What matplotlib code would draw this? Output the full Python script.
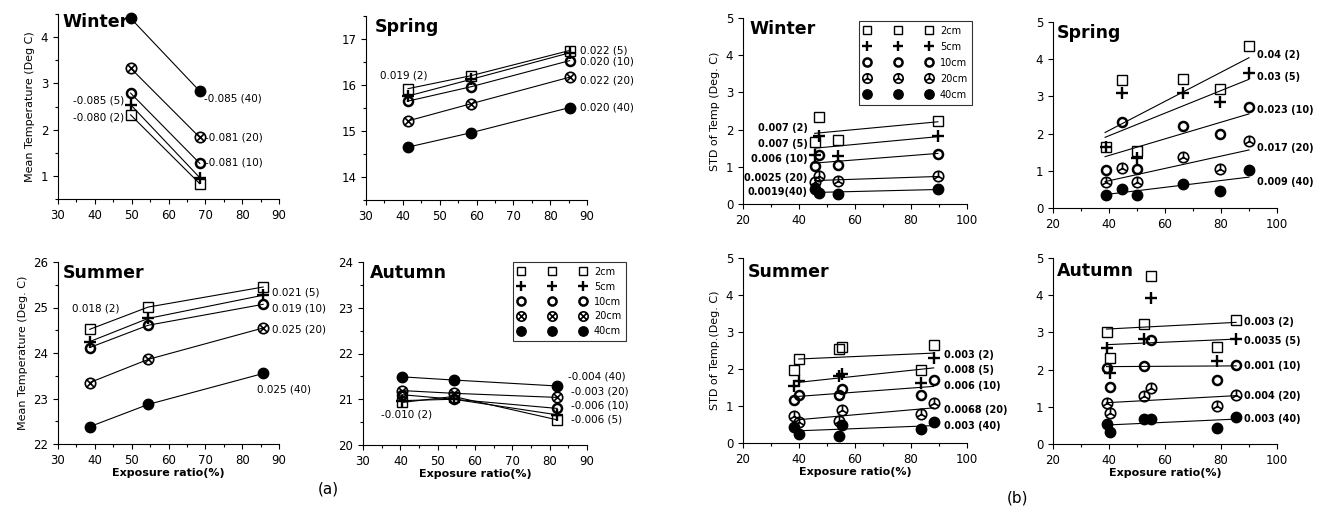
import matplotlib
matplotlib.use('Agg')
import matplotlib.pyplot as plt
from matplotlib.path import Path
from matplotlib.lines import Line2D
from matplotlib.ticker import MultipleLocator

depths = ['2cm', '5cm', '10cm', '20cm', '40cm']

# ---- (a) mean temperature, points joined by lines ----
a_win_x = [49.7, 68.5]
a_win_y = [[2.32, 0.83], [2.54, 0.96], [2.79, 1.27], [3.33, 1.83], [4.41, 2.83]]
a_win_lab = ['-0.080 (2)', '-0.085 (5)', '-0.081 (10)', '-0.081 (20)', '-0.085 (40)']

a_spr_x = [41.4, 58.4, 85.3]
a_spr_y = [[15.92, 16.20, 16.75], [15.76, 16.12, 16.70], [15.65, 15.96, 16.53],
           [15.22, 15.59, 16.17], [14.65, 14.96, 15.51]]
a_spr_lab = ['0.019 (2)', '0.022 (5)', '0.020 (10)', '0.022 (20)', '0.020 (40)']

a_sum_x = [38.6, 54.5, 85.7]
a_sum_y = [[24.52, 25.01, 25.45], [24.25, 24.76, 25.27], [24.12, 24.61, 25.07],
           [23.35, 23.86, 24.55], [22.38, 22.87, 23.55]]
a_sum_lab = ['0.018 (2)', '0.021 (5)', '0.019 (10)', '0.025 (20)', '0.025 (40)']

a_aut_x = [40.4, 54.3, 82.0]
a_aut_y = [[20.93, 21.06, 20.55], [20.97, 21.00, 20.66], [21.10, 21.00, 20.80],
           [21.19, 21.13, 21.04], [21.49, 21.42, 21.29]]
a_aut_lab = ['-0.010 (2)', '-0.006 (5)', '-0.006 (10)', '-0.003 (20)', '-0.004 (40)']

# ---- (b) std of temperature, scatter + fitted lines ----
b_win_x = [45.6, 47.3, 53.9, 89.6]
b_win_y = [[1.66, 2.34, 1.71, 2.22], [1.31, 1.84, 1.28, 1.82], [1.01, 1.33, 1.04, 1.35],
           [0.58, 0.74, 0.61, 0.76], [0.39, 0.30, 0.27, 0.40]]
b_win_fitx = [45.6, 89.6]
b_win_fit = [[1.90, 2.21], [1.50, 1.81], [1.10, 1.36], [0.63, 0.74], [0.31, 0.39]]
b_win_lab = ['0.007 (2)', '0.007 (5)', '0.006 (10)', '0.0025 (20)', '0.0019(40)']

b_spr_x = [39.0, 44.6, 49.9, 66.5, 79.6, 90.0]
b_spr_y = [[1.65, 3.44, 1.52, 3.48, 3.19, 4.35], [1.65, 3.08, 1.34, 3.10, 2.86, 3.63],
           [1.03, 2.32, 1.04, 2.21, 1.99, 2.72], [0.71, 1.07, 0.69, 1.37, 1.04, 1.81],
           [0.36, 0.51, 0.36, 0.64, 0.47, 1.01]]
b_spr_fitx = [38.6, 90.0]
b_spr_fit = [[2.03, 4.04], [1.90, 3.46], [1.38, 2.53], [0.71, 1.56], [0.36, 0.83]]
b_spr_lab = ['0.04 (2)', '0.03 (5)', '0.023 (10)', '0.017 (20)', '0.009 (40)']

b_sum_x = [38.3, 39.9, 54.2, 55.4, 83.6, 88.1]
b_sum_y = [[1.98, 2.27, 2.54, 2.59, 1.98, 2.66], [1.53, 1.67, 1.82, 1.86, 1.62, 2.30],
           [1.17, 1.29, 1.29, 1.47, 1.29, 1.69], [0.74, 0.56, 0.59, 0.88, 0.79, 1.08],
           [0.42, 0.24, 0.20, 0.50, 0.38, 0.56]]
b_sum_fitx = [39.9, 88.1]
b_sum_fit = [[2.27, 2.43], [1.64, 2.03], [1.26, 1.53], [0.63, 0.95], [0.33, 0.47]]
b_sum_lab = ['0.003 (2)', '0.008 (5)', '0.006 (10)', '0.0068 (20)', '0.003 (40)']

b_aut_x = [39.2, 40.5, 52.6, 54.9, 78.7, 85.4]
b_aut_y = [[3.00, 2.31, 3.22, 4.52, 2.62, 3.34], [2.58, 1.90, 2.82, 3.92, 2.22, 2.82],
           [2.04, 1.54, 2.10, 2.80, 1.72, 2.13], [1.10, 0.84, 1.29, 1.50, 1.02, 1.32],
           [0.54, 0.31, 0.66, 0.66, 0.42, 0.72]]
b_aut_fitx = [39.1, 85.4]
b_aut_fit = [[3.09, 3.27], [2.67, 2.82], [2.08, 2.10], [1.11, 1.30], [0.51, 0.67]]
b_aut_lab = ['0.003 (2)', '0.0035 (5)', '0.001 (10)', '0.004 (20)', '0.003 (40)']


# custom markers: circle with x, circle with three spokes
M, L = Path.MOVETO, Path.LINETO
circ = Path.unit_circle()
xcirc = Path.make_compound_path(
    circ,
    Path([(-0.7, -0.7), (0.7, 0.7)], [M, L]),
    Path([(-0.7, 0.7), (0.7, -0.7)], [M, L]))
merc = Path.make_compound_path(
    circ,
    Path([(0, 0), (0, 1)], [M, L]),
    Path([(0, 0), (-0.866, -0.5)], [M, L]),
    Path([(0, 0), (0.866, -0.5)], [M, L]))


def styles(special):
    return [
        dict(marker='s', ms=6.5, mfc='none', mec='k', mew=1.0),
        dict(marker='+', ms=8.5, mec='k', mew=1.7),
        dict(marker='o', ms=6.5, mfc='none', mec='k', mew=1.8),
        dict(marker=special, ms=7.5, mfc='none', mec='k', mew=1.2),
        dict(marker='o', ms=7.5, mfc='k', mec='k'),
    ]


W, H = 1327, 516
fig = plt.figure(figsize=(W / 100, H / 100), dpi=100)


def make_ax(l, r, t, b):
    ax = fig.add_axes([l / W, 1 - b / H, (r - l) / W, (b - t) / H])
    for s in ['top', 'right']:
        ax.spines[s].set_visible(False)
    ax.tick_params(direction='out', labelsize=8.5, length=3.5, width=0.8)
    ax.tick_params(which='minor', direction='out', length=2, width=0.8)
    return ax


def title(ax, txt, x, y):
    ax.text(x, y, txt, transform=ax.transAxes, fontsize=12.5, fontweight='bold',
            ha='left', va='center')


# ------------------------ (a) ------------------------
def panel_a(ax, x, ys, ylim, yticks):
    st = styles(xcirc)
    for i in range(5):
        ax.plot(x, ys[i], '-', color='k', lw=0.8, clip_on=False, **st[i])
    ax.set_xlim(30, 90)
    ax.set_ylim(*ylim)
    ax.set_xticks(range(30, 91, 10))
    ax.xaxis.set_minor_locator(MultipleLocator(5))
    ax.set_yticks(yticks)
    ax.yaxis.set_minor_locator(MultipleLocator(0.5))


ax = make_ax(58, 279, 14, 199)
panel_a(ax, a_win_x, a_win_y, (0.5, 4.5), [1, 2, 3, 4])
title(ax, 'Winter', 0.02, 0.955)
ax.set_ylabel('Mean Temperature (Deg C)', fontsize=8)
kw = dict(fontsize=7.5)
ax.text(48, 2.27, a_win_lab[0], ha='right', va='center', **kw)
ax.text(48, 2.64, a_win_lab[1], ha='right', va='center', **kw)
ax.text(69.8, 1.28, a_win_lab[2], ha='left', va='center', **kw)
ax.text(69.8, 1.83, a_win_lab[3], ha='left', va='center', **kw)
ax.text(69.6, 2.67, a_win_lab[4], ha='left', va='center', **kw)

ax = make_ax(366, 587, 16, 200)
panel_a(ax, a_spr_x, a_spr_y, (13.5, 17.5), [14, 15, 16, 17])
title(ax, 'Spring', 0.04, 0.94)
ax.text(33.8, 16.2, a_spr_lab[0], ha='left', va='center', **kw)
for i, yy in zip([1, 2, 3, 4], [16.76, 16.5, 16.1, 15.5]):
    ax.text(88.0, yy, a_spr_lab[i], ha='left', va='center', **kw)

ax = make_ax(58, 279, 262, 444)
panel_a(ax, a_sum_x, a_sum_y, (22, 26), [22, 23, 24, 25, 26])
title(ax, 'Summer', 0.02, 0.94)
ax.set_ylabel('Mean Temperature (Deg. C)', fontsize=8)
ax.set_xlabel('Exposure ratio(%)', fontsize=8, fontweight='bold', labelpad=1)
ax.text(33.7, 24.98, a_sum_lab[0], ha='left', va='center', **kw)
for i, yy in zip([1, 2, 3], [25.32, 24.98, 24.52]):
    ax.text(88.0, yy, a_sum_lab[i], ha='left', va='center', **kw)
ax.text(83.9, 23.2, a_sum_lab[4], ha='left', va='center', **kw)

ax = make_ax(363, 587, 262, 445)
panel_a(ax, a_aut_x, a_aut_y, (20, 24), [20, 21, 22, 23, 24])
title(ax, 'Autumn', 0.03, 0.94)
ax.set_xlabel('Exposure ratio(%)', fontsize=8, fontweight='bold', labelpad=1)
ax.text(34.9, 20.66, a_aut_lab[0], ha='left', va='center', **kw)
for i, yy in zip([1, 2, 3], [20.55, 20.86, 21.17]):
    ax.text(85.8, yy, a_aut_lab[i], ha='left', va='center', **kw)
ax.text(84.9, 21.49, a_aut_lab[4], ha='left', va='center', **kw)


def legend(ax, special, anchor, spacing):
    st = styles(special)
    hs = [Line2D([], [], ls='none', **s) for s in st]
    lg = ax.legend(hs, depths, loc='upper left', bbox_to_anchor=anchor,
                   borderaxespad=0, numpoints=3, handlelength=7.0,
                   handletextpad=0.8, labelspacing=spacing, fontsize=7,
                   fancybox=False, frameon=True, borderpad=0.5, markerscale=0.9)
    lg.get_frame().set_edgecolor('k')
    lg.get_frame().set_linewidth(0.8)


legend(ax, xcirc, (0.67, 1.0), 0.5)


# ------------------------ (b) ------------------------
def panel_b(ax, x, ys, fx, fits):
    st = styles(merc)
    for i in range(5):
        ax.plot(fx, fits[i], '-', color='k', lw=0.8)
        ax.plot(x, ys[i], ls='none', clip_on=False, **st[i])
    ax.set_xlim(20, 100)
    ax.set_ylim(0, 5)
    ax.set_xticks(range(20, 101, 20))
    ax.xaxis.set_minor_locator(MultipleLocator(10))
    ax.set_yticks(range(0, 6))


bkw = dict(fontsize=7, fontweight='bold')

ax = make_ax(743, 967, 18, 204)
panel_b(ax, b_win_x, b_win_y, b_win_fitx, b_win_fit)
title(ax, 'Winter', 0.027, 0.94)
ax.set_ylabel('STD of Temp (Deg. C)', fontsize=8)
for i, yy in enumerate([2.04, 1.62, 1.21, 0.70, 0.31]):
    ax.text(43.0, yy, b_win_lab[i], ha='right', va='center', **bkw)
legend(ax, merc, (0.519, 0.985), 0.62)

ax = make_ax(1053, 1277, 22, 208)
panel_b(ax, b_spr_x, b_spr_y, b_spr_fitx, b_spr_fit)
title(ax, 'Spring', 0.016, 0.94)
for i, yy in enumerate([4.11, 3.53, 2.63, 1.61, 0.71]):
    ax.text(93.0, yy, b_spr_lab[i], ha='left', va='center', **bkw)

ax = make_ax(743, 967, 258, 443)
panel_b(ax, b_sum_x, b_sum_y, b_sum_fitx, b_sum_fit)
title(ax, 'Summer', 0.022, 0.925)
ax.set_ylabel('STD of Temp.(Deg. C)', fontsize=8)
ax.set_xlabel('Exposure ratio(%)', fontsize=8, fontweight='bold', labelpad=1)
for i, yy in enumerate([2.39, 1.98, 1.53, 0.90, 0.45]):
    ax.text(91.9, yy, b_sum_lab[i], ha='left', va='center', **bkw)

ax = make_ax(1053, 1277, 258, 444)
panel_b(ax, b_aut_x, b_aut_y, b_aut_fitx, b_aut_fit)
title(ax, 'Autumn', 0.016, 0.93)
ax.set_xlabel('Exposure ratio(%)', fontsize=8, fontweight='bold', labelpad=1)
for i, yy in enumerate([3.27, 2.78, 2.10, 1.30, 0.67]):
    ax.text(88.1, yy, b_aut_lab[i], ha='left', va='center', **bkw)

fig.text(328 / W, 1 - 489 / H, '(a)', fontsize=11, ha='center', va='center')
fig.text(1018 / W, 1 - 498 / H, '(b)', fontsize=11, ha='center', va='center')

fig.savefig('out.png', dpi=100)
